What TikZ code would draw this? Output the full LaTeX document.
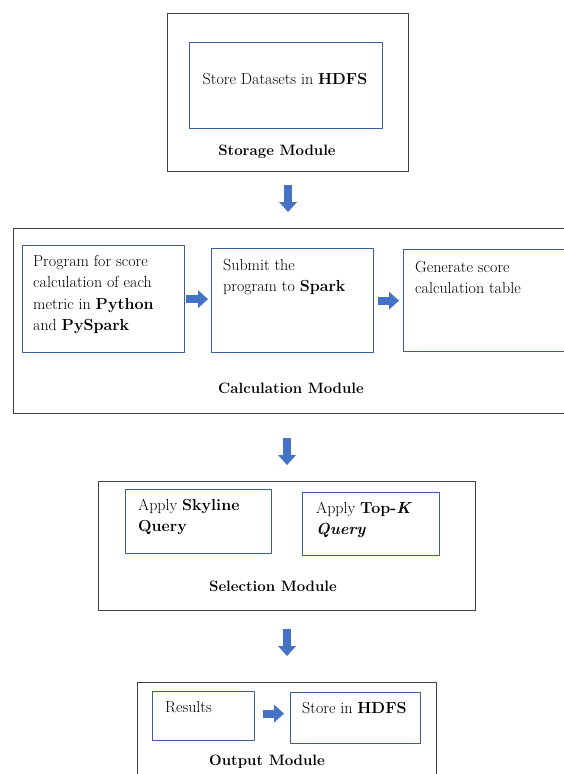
\documentclass[tikz,border=0pt]{standalone}
\usetikzlibrary{arrows.meta,positioning}
\definecolor{taskblue}{HTML}{3C5F9A}
\definecolor{flowblue}{HTML}{4472C4}
\begin{document}
\begin{tikzpicture}[x=1pt,y=-1pt, font=\fontsize{16}{21.5}\selectfont, line join=round,
	module/.style={draw=black!75, line width=1.1pt, anchor=north west, inner sep=0pt},
	task/.style={draw=taskblue, line width=1.3pt, anchor=north west, inner sep=0pt},
	txt/.style={anchor=base west, align=left, inner sep=0pt},
	title/.style={font=\fontsize{15}{18}\selectfont\bfseries},
	flow/.style={draw=flowblue, line width=8pt, -{Triangle[width=18pt,length=10pt,line width=0pt]}}]
	\useasboundingbox (0,0) rectangle (563,774);
	% Storage Module
	\node[module, minimum width=241, minimum height=158] (storage) at (167,13) {};
	\node[task, minimum width=193, minimum height=86] (hdfs) at (189,42) {};
	\node (hdfstxt) at (285,79) {Store Datasets in \textbf{HDFS}};
	\node[title] (storagett) at (277,152) {Storage Module};
	% Calculation Module (base = last line)
	\node[module, minimum width=560, minimum height=185] (calc) at (13,228) {};
	\node[task, minimum width=162, minimum height=107] (prog) at (22,245) {};
	\node[task, minimum width=162, minimum height=104] (submit) at (211,248) {};
	\node[task, minimum width=170, minimum height=102] (table) at (403,249) {};
	\node[txt] (progtxt) at (33,330.5) {Program for score\\calculation of each\\metric in \textbf{Python}\\and \textbf{PySpark}};
	\node[txt] (submittxt) at (223,291.5) {Submit the\\program to \textbf{Spark}};
	\node[txt] (tabletxt) at (415,293.5) {Generate score\\calculation table};
	\node[title] (calctt) at (291,388) {Calculation Module};
	% Selection Module
	\node[module, minimum width=377, minimum height=129] (select) at (98,481) {};
	\node[task, minimum width=146, minimum height=64] (skyline) at (125,489) {};
	\node[task, minimum width=137, minimum height=63] (topk) at (302,492) {};
	\node[txt] (skylinetxt) at (138,531.5) {Apply \textbf{Skyline}\\\textbf{Query}};
	\node[txt] (topktxt) at (316,534.5) {Apply \textbf{Top-\textit{K}}\\\textbf{\textit{Query}}};
	\node[title] (selecttt) at (273,586) {Selection Module};
	% Output Module
	\node[module, minimum width=299, minimum height=110] (output) at (137,682) {};
	\node[task, minimum width=102, minimum height=49] (results) at (152,691) {};
	\node[task, minimum width=130, minimum height=51] (store) at (290,692) {};
	\node[txt] (resultstxt) at (165,712.5) {Results};
	\node[txt] (storetxt) at (302,713.5) {Store in \textbf{HDFS}};
	\node[title] (outputtt) at (267,762) {Output Module};
	% arrows
	\draw[flow, shorten <=13pt, shorten >=16pt] (storage.south) -- (storage.south |- calc.north);
	\draw[flow, shorten <=24pt, shorten >=16pt] (select.north |- calc.south) -- (select.north);
	\draw[flow, shorten <=18pt, shorten >=26pt] (select.south) -- (output.north);
	\draw[flow, shorten <=1pt, shorten >=3pt] (prog.east) -- (prog.east -| submit.west);
	\draw[flow, shorten <=4pt, shorten >=4pt] (submit.east) -- (submit.east -| table.west);
	\draw[flow, shorten <=8pt, shorten >=6pt] ([yshift=2.5]results.east) -- ([yshift=2.5]results.east -| store.west);
\end{tikzpicture}
\end{document}
